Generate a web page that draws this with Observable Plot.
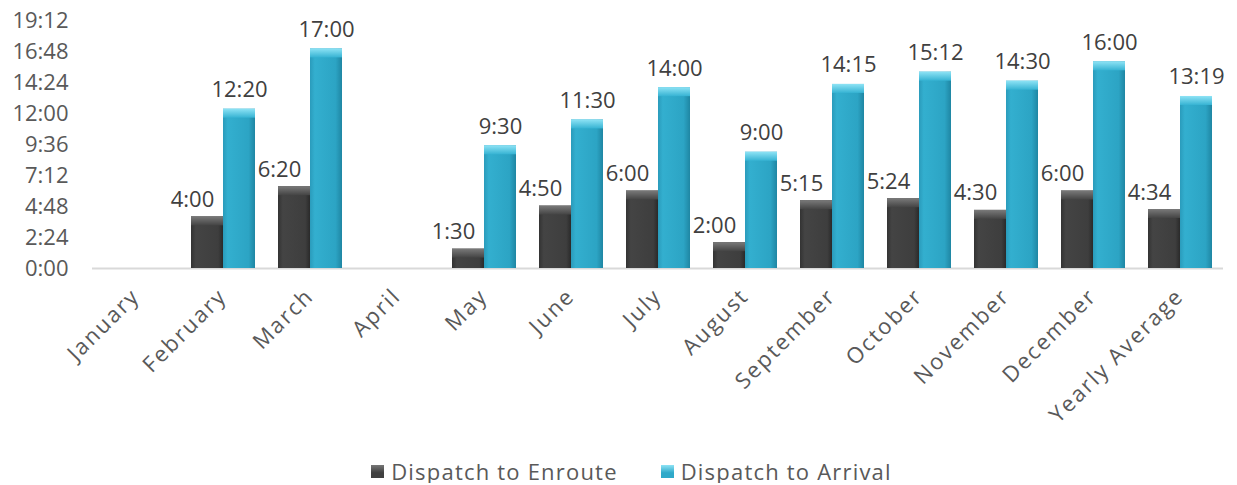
<!DOCTYPE html>
<html>
<head>
<meta charset="utf-8">
<script src="https://cdn.jsdelivr.net/npm/d3@7"></script>
<script src="https://cdn.jsdelivr.net/npm/@observablehq/plot@0.6"></script>
<style>
  body { margin: 0; background: #fff; font-family: "Open Sans", sans-serif; }
  #legend { display: flex; justify-content: center; align-items: center; gap: 43px; font-size: 22px; letter-spacing: 1.2px; color: #595959; margin-top: 4px; padding-left: 26px; line-height: 24px; }
  #legend span.item { display: flex; align-items: center; }
  #legend span.sw { display: inline-block; width: 13px; height: 13px; margin-right: 7px; }
</style>
</head>
<body>
<div id="chart"></div>
<div id="legend"></div>
<script>
const categories = ["January","February","March","April","May","June","July","August","September","October","November","December","Yearly Average"];
const seriesNames = ["Dispatch to Enroute","Dispatch to Arrival"];
const enroute = [null,"4:00","6:20",null,"1:30","4:50","6:00","2:00","5:15","5:24","4:30","6:00","4:34"];
const arrival = [null,"12:20","17:00",null,"9:30","11:30","14:00","9:00","14:15","15:12","14:30","16:00","13:19"];
const yTickLabels = ["0:00","2:24","4:48","7:12","9:36","12:00","14:24","16:48","19:12"];

const toSec = s => { const [m, ss] = s.split(":").map(Number); return m * 60 + ss; };
const fmt = v => `${Math.floor(v / 60)}:${String(Math.round(v % 60)).padStart(2, "0")}`;

const rows = [];
categories.forEach((c, i) => {
  [[enroute, 0], [arrival, 1]].forEach(([arr, k]) => {
    if (arr[i] != null) rows.push({category: c, series: seriesNames[k], value: toSec(arr[i]), label: arr[i]});
  });
});
const yTicks = yTickLabels.map(toSec);

const fillFor = d => d.series === seriesNames[0] ? "url(#gDark)" : "url(#gBlue)";
const bevelFor = d => d.series === seriesNames[0] ? "url(#bDark)" : "url(#bBlue)";

const chart = Plot.plot({
  width: 1237,
  height: 455,
  marginLeft: 90,
  marginRight: 12,
  marginTop: 20,
  marginBottom: 187,
  style: {fontFamily: "'Open Sans', sans-serif", fontSize: "22px", color: "#595959", background: "#fff"},
  fx: {domain: categories, paddingInner: 0.25, paddingOuter: 0.125, label: null, axis: "bottom", tickRotate: -45, tickSize: 0, tickPadding: 24},
  x: {domain: seriesNames, axis: null, padding: 0},
  y: {domain: [0, 1152], ticks: yTicks, tickFormat: fmt, tickSize: 0, tickPadding: 35, label: null},
  marks: [
    Plot.ruleY(categories, {fx: d => d, y: () => 0, stroke: "#d9d9d9", strokeWidth: 2, insetLeft: -11, insetRight: -11}),
    Plot.barY(rows, {fx: "category", x: "series", y: "value", fill: fillFor}),
    Plot.barY(rows, {fx: "category", x: "series", y1: "value", y2: "value", insetBottom: -9, fill: bevelFor}),
    Plot.text(rows, {fx: "category", x: "series", y: "value", text: "label", lineAnchor: "bottom", dy: -12,
      fill: "#404040", fontSize: 22,
      filter: d => d.series === seriesNames[1]}),
    Plot.text(rows, {fx: "category", x: "series", y: "value", text: "label", lineAnchor: "bottom", dy: -10, dx: -15,
      fill: "#404040", fontSize: 22,
      filter: d => d.series === seriesNames[0]})
  ]
});

const defs = `
<defs>
  <linearGradient id="gDark" x1="0" x2="1" y1="0" y2="0">
    <stop offset="0" stop-color="#333"/><stop offset="0.15" stop-color="#444"/>
    <stop offset="0.85" stop-color="#3e3e3e"/><stop offset="1" stop-color="#2a2a2a"/>
  </linearGradient>
  <linearGradient id="gBlue" x1="0" x2="1" y1="0" y2="0">
    <stop offset="0" stop-color="#2a9bbb"/><stop offset="0.15" stop-color="#33afcf"/>
    <stop offset="0.8" stop-color="#2ca4c4"/><stop offset="1" stop-color="#1f86a3"/>
  </linearGradient>
  <linearGradient id="bDark" x1="0" x2="0" y1="0" y2="1">
    <stop offset="0" stop-color="#7a7a7a"/><stop offset="1" stop-color="#444"/>
  </linearGradient>
  <linearGradient id="bBlue" x1="0" x2="0" y1="0" y2="1">
    <stop offset="0" stop-color="#8ee3f5"/><stop offset="1" stop-color="#36b3d3"/>
  </linearGradient>
</defs>`;
chart.insertAdjacentHTML("afterbegin", defs);
d3.select(chart).selectAll('[aria-label="fx-axis tick label"] text').style("letter-spacing", "2px");
document.getElementById("chart").appendChild(chart);

const legend = document.getElementById("legend");
seriesNames.forEach((s, i) => {
  const item = document.createElement("span");
  item.className = "item";
  const sw = document.createElement("span");
  sw.className = "sw";
  sw.style.background = i === 0 ? "linear-gradient(#777, #404040 60%)" : "linear-gradient(#8ee3f5, #2fa9c9 60%)";
  item.appendChild(sw);
  item.appendChild(document.createTextNode(s));
  legend.appendChild(item);
});
</script>
</body>
</html>
